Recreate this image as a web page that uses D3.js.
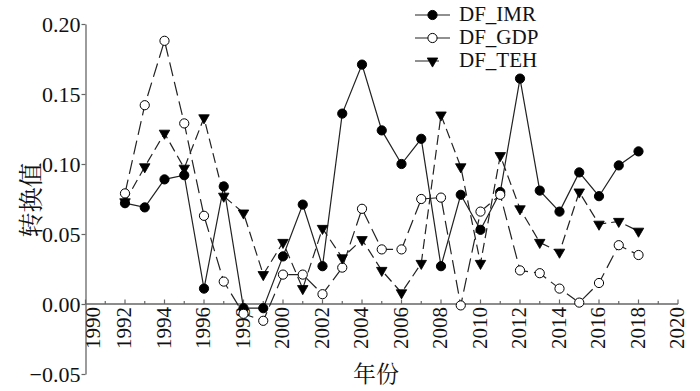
<!DOCTYPE html>
<html>
<head>
<meta charset="utf-8">
<script src="https://cdn.jsdelivr.net/npm/d3@7"></script>
<style>
  html, body { margin: 0; padding: 0; background: #fff; }
  svg { display: block; }
</style>
</head>
<body>
<svg id="chart" width="700" height="391"></svg>
<script>
const years = [1992,1993,1994,1995,1996,1997,1998,1999,2000,2001,2002,2003,2004,2005,2006,2007,2008,2009,2010,2011,2012,2013,2014,2015,2016,2017,2018];
const imr = [0.072,0.069,0.089,0.092,0.011,0.084,-0.003,-0.003,0.034,0.071,0.027,0.136,0.171,0.124,0.100,0.118,0.027,0.078,0.053,0.080,0.161,0.081,0.066,0.094,0.077,0.099,0.109];
const gdp = [0.079,0.142,0.188,0.129,0.063,0.016,-0.007,-0.012,0.021,0.021,0.007,0.026,0.068,0.039,0.039,0.075,0.076,-0.001,0.066,0.078,0.024,0.022,0.011,0.001,0.015,0.042,0.035];
const teh = [0.073,0.098,0.122,0.097,0.133,0.077,0.065,0.021,0.044,0.011,0.054,0.033,0.046,0.024,0.008,0.029,0.135,0.098,0.029,0.106,0.068,0.044,0.037,0.080,0.057,0.059,0.052];
const seriesNames = ["DF_IMR","DF_GDP","DF_TEH"];
const yTicks = [-0.05,0.00,0.05,0.10,0.15,0.20];
const xTicks = [1990,1992,1994,1996,1998,2000,2002,2004,2006,2008,2010,2012,2014,2016,2018,2020];
const xLabel = "年份";
const yLabel = "转换值";

const svg = d3.select("#chart");
const serif = "Liberation Serif";
const cjk = "Noto Serif CJK SC";
const axisColor = "#666";

const x = d3.scaleLinear().domain([1990, 2020]).range([85.5, 678]);
const y = d3.scaleLinear().domain([-0.05, 0.20]).range([374, 24]);

// Y axis
const yAxis = d3.axisLeft(y).tickValues(yTicks).tickFormat(d3.format(".2f")).tickSize(4).tickSizeOuter(0);
const gy = svg.append("g").attr("transform", `translate(${x(1990)},0)`).call(yAxis)
  .attr("font-family", serif).attr("font-size", 22);
gy.select(".domain").attr("stroke", axisColor).attr("stroke-width", 1.3);
gy.selectAll(".tick line").attr("stroke", axisColor).attr("stroke-width", 1.2);
gy.selectAll(".tick text").attr("font-family", serif).attr("font-size", 22).attr("fill", "#111").attr("x", -5);

// X axis at y=0, ticks inside (upward)
const minorYears = d3.range(1990, 2021);
const gx = svg.append("g").attr("transform", `translate(0,${y(0)})`);
gx.append("line").attr("x1", x(1990)).attr("x2", x(2020)).attr("y1", 0).attr("y2", 0)
  .attr("stroke", axisColor).attr("stroke-width", 1.3);
gx.selectAll("line.tk").data(minorYears).enter().append("line").attr("class","tk")
  .attr("x1", d => x(d)).attr("x2", d => x(d))
  .attr("y1", 0).attr("y2", d => xTicks.includes(d) ? -4.5 : -3)
  .attr("stroke", axisColor).attr("stroke-width", 1.2);
gx.selectAll("text.xl").data(xTicks).enter().append("text").attr("class","xl")
  .attr("transform", (d, i) => `translate(${x(d) + (i === 0 ? 7 : -1)},3) rotate(-90)`)
  .attr("text-anchor", "end")
  .attr("dy", "0.35em")
  .attr("font-family", serif).attr("font-size", 21).attr("fill", "#111")
  .text(d => d);

// Axis titles
svg.append("text").attr("x", 376).attr("y", 382).attr("text-anchor", "middle")
  .attr("font-family", cjk).attr("font-size", 23).attr("fill", "#111").text(xLabel);
svg.append("text").attr("transform", `translate(31,200) rotate(-90)`).attr("text-anchor", "middle")
  .attr("dy", "0.35em")
  .attr("font-family", cjk).attr("font-size", 25).attr("fill", "#111").text(yLabel);

// Series
const series = [
  { name: seriesNames[0], values: imr, dash: null, marker: "circle", fill: "#000" },
  { name: seriesNames[1], values: gdp, dash: "14,6", marker: "circle", fill: "#fff" },
  { name: seriesNames[2], values: teh, dash: "10,5", marker: "triangle", fill: "#000" }
];
const line = d3.line().x((d, i) => x(years[i])).y(d => y(d));
const tri = d3.symbol().type(d3.symbolTriangle).size(48);

function drawMarker(g, type, fill, cx, cy) {
  if (type === "circle") {
    g.append("circle").attr("cx", cx).attr("cy", cy).attr("r", 4.6)
      .attr("fill", fill).attr("stroke", "#000").attr("stroke-width", 1);
  } else {
    g.append("path").attr("d", tri).attr("transform", `translate(${cx},${cy}) rotate(180)`)
      .attr("fill", fill).attr("stroke", "#000").attr("stroke-width", 0.8);
  }
}

series.forEach(s => {
  svg.append("path").datum(s.values).attr("d", line)
    .attr("fill", "none").attr("stroke", "#222").attr("stroke-width", 1.2)
    .attr("stroke-dasharray", s.dash);
});
series.forEach(s => {
  const g = svg.append("g");
  s.values.forEach((v, i) => drawMarker(g, s.marker, s.fill, x(years[i]), y(v)));
});

// Legend
const legendRows = [14, 37, 60];
series.forEach((s, i) => {
  const ly = legendRows[i];
  const g = svg.append("g");
  g.append("line").attr("x1", 415).attr("x2", 450).attr("y1", ly + 1).attr("y2", ly + 1)
    .attr("stroke", "#222").attr("stroke-width", 1.2)
    .attr("stroke-dasharray", i === 2 ? "14,4,6" : null);
  drawMarker(g, s.marker, s.fill, 432.5, ly + 1);
  g.append("text").attr("x", 459).attr("y", ly).attr("dy", "0.35em")
    .attr("font-family", serif).attr("font-size", 21).attr("fill", "#111").text(s.name);
});
</script>
</body>
</html>
